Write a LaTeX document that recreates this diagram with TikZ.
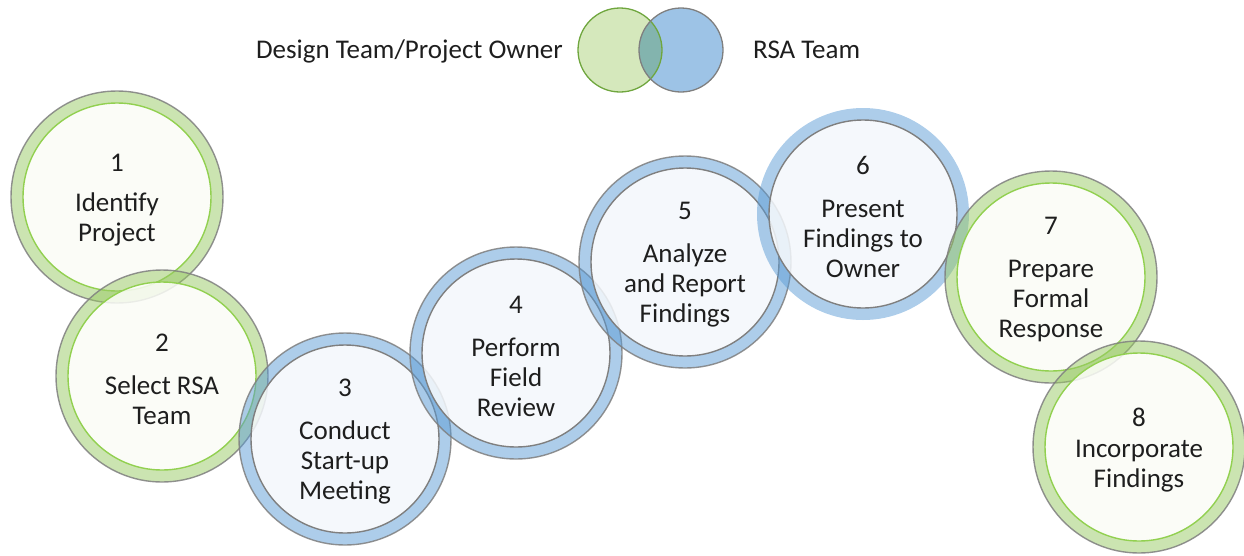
\documentclass[tikz,border=0pt]{standalone}
\usepackage{fontspec}
\setmainfont{Carlito}
\definecolor{greenring}{HTML}{98C964}
\definecolor{bluering}{HTML}{5B9BD5}
\definecolor{greendisc}{HTML}{FAFCF6}
\definecolor{bluedisc}{HTML}{F3F7FB}
\definecolor{greenline}{HTML}{92D050}
\definecolor{greyline}{HTML}{7F7F7F}
\definecolor{legendgreen}{HTML}{D5E8BC}
\definecolor{legendblue}{HTML}{9DC3E6}
\definecolor{legendmix}{HTML}{83B4AE}
\definecolor{legendedge}{HTML}{6FA63E}
\definecolor{inktext}{HTML}{1E1E1E}
\begin{document}
\begin{tikzpicture}[x=1pt,y=-1pt,
  txt/.style={font=\fontsize{27}{30}\selectfont, text=inktext, inner sep=0pt},
  steptext/.style={txt, align=center, yshift=-3pt},
  ring/.style={fill=#1, fill opacity=0.5, even odd rule},
  disc/.style={fill=#1, fill opacity=0.86},
  inneredge/.style={draw=#1, line width=1.4pt},
  outeredge/.style={draw=#1, line width=1.4pt, draw opacity=0.85},
  legendfill/.style={fill=#1},
  legendline/.style={draw=#1, line width=1.3pt}]
\useasboundingbox (0,0) rectangle (1244,555);

% legend
\coordinate (lg) at (620,50);
\coordinate (lb) at (681,50);
\fill[legendfill=legendgreen] (lg) circle[radius=42pt];
\fill[legendfill=legendblue] (lb) circle[radius=42pt];
\begin{scope}
  \clip (lg) circle[radius=42pt];
  \fill[legendfill=legendmix] (lb) circle[radius=42pt];
\end{scope}
\draw[legendline=legendedge] (lg) circle[radius=42pt];
\draw[legendline=greyline] (lb) circle[radius=42pt];
\node[txt, anchor=base east] (lgtext) at (563,58) {Design Team/Project Owner};
\node[txt, anchor=base west] (lbtext) at (753,58) {RSA Team};

% the eight steps: number, centre, colours, gap below the number, label
\foreach \n/\x/\y/\rc/\dc/\ic/\oc/\g/\t in {
  1/117/197/greenring/greendisc/greenline/greyline/10pt/{Identify\\Project},
  2/162/376/greenring/greendisc/greenline/greyline/13pt/{Select RSA\\Team},
  3/345/439/bluering/bluedisc/greyline/greyline/13pt/{Conduct\\Start-up\\Meeting},
  4/516/353/bluering/bluedisc/greyline/greyline/13pt/{Perform\\Field\\Review},
  5/685/262/bluering/bluedisc/greyline/greyline/13pt/{Analyze\\and Report\\Findings},
  6/863/214/bluering/bluedisc/greyline/none/13pt/{Present\\Findings to\\Owner},
  7/1051/277/greenring/greendisc/greenline/greyline/13pt/{Prepare\\Formal\\Response},
  8/1139/447/greenring/greendisc/greenline/greyline/1pt/{Incorporate\\Findings}} {
  \coordinate (c\n) at (\x,\y);
  \fill[ring=\rc] (c\n) circle[radius=106pt] circle[radius=94pt];
  \fill[disc=\dc] (c\n) circle[radius=94pt];
  \draw[outeredge=\oc] (c\n) circle[radius=106pt];
  \draw[inneredge=\ic] (c\n) circle[radius=94pt];
  \node[steptext] (s\n) at (c\n) {\n\\[\g]\t};
}
\end{tikzpicture}
\end{document}
